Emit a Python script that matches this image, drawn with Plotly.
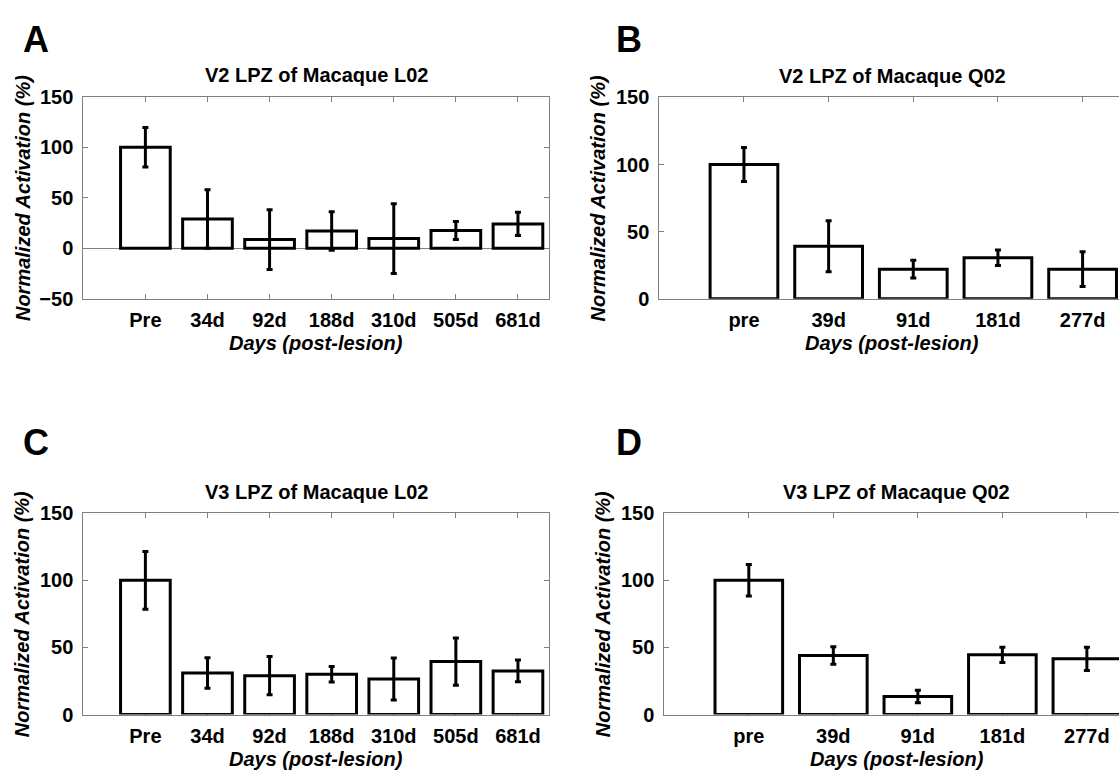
import plotly.graph_objects as go

# ---------------- data ----------------
labels_L02 = ["Pre", "34d", "92d", "188d", "310d", "505d", "681d"]
labels_Q02 = ["pre", "39d", "91d", "181d", "277d"]

v2_L02 = [100, 29, 8.5, 17, 9.5, 17.5, 24]
v2_L02_err = [19.5, 29, 29.5, 19, 34.5, 9, 11.5]

v2_Q02 = [100, 39, 22, 30.5, 22]
v2_Q02_err = [12.7, 19, 6.6, 5.8, 13]

v3_L02 = [100, 31, 29, 30, 26.5, 39.5, 32.5]
v3_L02_err = [21.5, 11.3, 14.2, 5.8, 15.7, 17.6, 8.1]

v3_Q02 = [100, 44, 13.5, 44.5, 41.5]
v3_Q02_err = [11.7, 6.5, 4.6, 5.7, 8.7]

titles = ["V2 LPZ of Macaque L02", "V2 LPZ of Macaque Q02",
          "V3 LPZ of Macaque L02", "V3 LPZ of Macaque Q02"]
panel_letters = ["A", "B", "C", "D"]
x_title = "Days (post-lesion)"
y_title = "Normalized Activation (%)"

# ---------------- layout geometry (pixels) ----------------
W, H = 1119, 781
FONT = "Liberation Sans, Arial, Helvetica, sans-serif"
AXC = "#808080"

def dx(px):
    return px / W

def dy(px):
    return 1 - px / H

# x0,x1,y0,y1 : plot box in pixels; full_x1: where the full axis box would end
panels = [
    dict(vals=v2_L02, err=v2_L02_err, labels=labels_L02, x0=83.3, x1=549, full_x1=549,
         y0=88.3, y1=296, yr=[-50, 150], xr=[0, 7.5], full=True, letter=(35.5, 29)),
    dict(vals=v2_Q02, err=v2_Q02_err, labels=labels_Q02, x0=659.3, x1=1119, full_x1=1125,
         y0=89, y1=296, yr=[0, 150], xr=[0, 5.43], full=False, letter=(628.5, 29)),
    dict(vals=v3_L02, err=v3_L02_err, labels=labels_L02, x0=83.3, x1=549, full_x1=549,
         y0=516.7, y1=724, yr=[0, 150], xr=[0, 7.5], full=True, letter=(35.5, 443.5)),
    dict(vals=v3_Q02, err=v3_Q02_err, labels=labels_Q02, x0=664.3, x1=1119, full_x1=1129,
         y0=516.7, y1=724, yr=[0, 150], xr=[0, 5.38], full=False, letter=(628.5, 443.5)),
]

fig = go.Figure()
layout = dict(
    width=W, height=H,
    margin=dict(l=0, r=0, t=0, b=0),
    paper_bgcolor="white", plot_bgcolor="white",
    showlegend=False,
    font=dict(family=FONT, color="black"),
)
annotations = []

for i, p in enumerate(panels):
    n = i + 1
    xa = "x" if n == 1 else f"x{n}"
    ya = "y" if n == 1 else f"y{n}"
    pos = list(range(1, len(p["vals"]) + 1))
    fig.add_trace(go.Bar(
        x=pos, y=p["vals"], xaxis=xa, yaxis=ya, width=0.8,
        marker=dict(color="white", line=dict(color="black", width=3)),
        error_y=dict(type="data", array=p["err"], visible=True,
                     color="black", thickness=3, width=3),
    ))
    xkey = "xaxis" if n == 1 else f"xaxis{n}"
    ykey = "yaxis" if n == 1 else f"yaxis{n}"
    layout[xkey] = dict(
        domain=[dx(p["x0"]), dx(p["x1"])], anchor=ya, range=p["xr"],
        tickmode="array", tickvals=pos, ticktext=p["labels"],
        ticks="inside", ticklen=5, tickcolor=AXC, tickwidth=1,
        showline=True, linecolor=AXC, linewidth=1, mirror="ticks",
        showgrid=False, zeroline=False, layer="below traces",
        tickfont=dict(size=20, weight="bold", family=FONT, color="black"),
        ticklabelstandoff=3, fixedrange=True,
    )
    layout[ykey] = dict(
        domain=[dy(p["y1"]), dy(p["y0"])], anchor=xa, range=p["yr"],
        tickmode="array", tickvals=list(range(p["yr"][0], p["yr"][1] + 1, 50)),
        ticks="inside", ticklen=5, tickcolor=AXC, tickwidth=1,
        showline=True, linecolor=AXC, linewidth=1,
        mirror="ticks" if p["full"] else False,
        showgrid=False, zeroline=(p["yr"][0] < 0), zerolinecolor=AXC, zerolinewidth=1,
        layer="below traces",
        tickfont=dict(size=20, weight="bold", family=FONT, color="black"),
        ticklabelstandoff=5, fixedrange=True,
    )
    cx = (p["x0"] + p["full_x1"]) / 2
    # subplot title
    annotations.append(dict(
        text=titles[i], xref="paper", yref="paper",
        x=dx(cx), y=dy(p["y0"] - 22), xanchor="center", yanchor="middle",
        showarrow=False, font=dict(size=20, weight="bold", family=FONT, color="black"),
    ))
    # x label
    annotations.append(dict(
        text=x_title, xref="paper", yref="paper",
        x=dx(cx), y=dy(p["y1"] + 46), xanchor="center", yanchor="middle",
        showarrow=False, font=dict(size=20, weight="bold", style="italic", family=FONT, color="black"),
    ))
    # y label
    annotations.append(dict(
        text=y_title, xref="paper", yref="paper", textangle=-90,
        x=dx(p["x0"] - 61), y=dy((p["y0"] + p["y1"]) / 2), xanchor="center", yanchor="middle",
        showarrow=False, font=dict(size=20, weight="bold", style="italic", family=FONT, color="black"),
    ))
    # panel letter
    annotations.append(dict(
        text=panel_letters[i], xref="paper", yref="paper",
        x=dx(p["letter"][0]), y=dy(p["letter"][1]),
        xanchor="center", yanchor="middle",
        showarrow=False, font=dict(size=36, weight="bold", family=FONT, color="black"),
    ))

layout["annotations"] = annotations
fig.update_layout(**layout)
fig.write_html(
    "out.html",
    config={"displayModeBar": False},
    post_script="document.body.style.margin='0';document.body.style.overflow='hidden';",
)
